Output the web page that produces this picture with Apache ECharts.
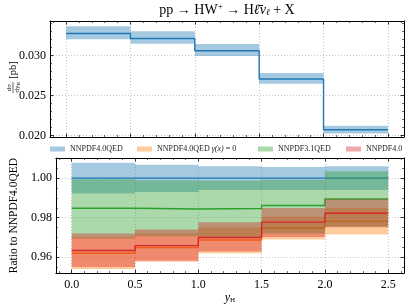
<!DOCTYPE html>
<html><head><meta charset="utf-8">
<script src="https://cdn.jsdelivr.net/npm/echarts@6/dist/echarts.min.js"></script>
<style>html,body{margin:0;padding:0;background:#fff}#c{width:407px;height:305px}</style>
</head><body><div id="c"></div>
<script>
// ---- data ----
const binEdges = [0.0, 0.5, 1.0, 1.5, 2.0, 2.5];
// top panel: d sigma / d y_H [pb]
const topCentral = [0.03274, 0.03212, 0.03058, 0.02705, 0.02070];
const topHigh    = [0.03365, 0.03303, 0.03141, 0.02780, 0.02120];
const topLow     = [0.03203, 0.03145, 0.02992, 0.02647, 0.02024];
// bottom panel: ratio to NNPDF4.0QED
const seriesNames = ['NNPDF4.0QED', 'NNPDF4.0QED γ(x) = 0', 'NNPDF3.1QED', 'NNPDF4.0'];
const qedC  = [1.0000, 1.0000, 1.0000, 1.0000, 1.0000];
const qedHi = [1.0078, 1.0068, 1.0060, 1.0057, 1.0060];
const qedLo = [0.9922, 0.9930, 0.9940, 0.9940, 0.9940];
const noPhC  = [0.9620, 0.9649, 0.9687, 0.9748, 0.9783];
const noPhHi = [0.9703, 0.9722, 0.9750, 0.9805, 0.9850];
const noPhLo = [0.9541, 0.9577, 0.9620, 0.9690, 0.9715];
const n31C  = [0.9848, 0.9844, 0.9847, 0.9862, 0.9895];
const n31Hi = [0.9994, 0.9990, 0.9988, 0.9992, 1.0035];
const n31Lo = [0.9695, 0.9706, 0.9703, 0.9720, 0.9755];
const n40C  = [0.9634, 0.9659, 0.9700, 0.9778, 0.9823];
const n40Hi = [0.9720, 0.9741, 0.9777, 0.9849, 0.9893];
const n40Lo = [0.9551, 0.9582, 0.9629, 0.9703, 0.9752];

// ---- styling ----
const serif = "'Liberation Serif','DejaVu Serif',serif";
const lineCol = ['#1f77b4', '#ff7f0e', '#2ca02c', '#d62728'];
const bandCol = ['rgba(31,119,180,0.4)', 'rgba(255,127,14,0.4)', 'rgba(44,160,44,0.4)', 'rgba(214,39,40,0.4)'];

function band(name, lo, hi, color, ax, z) {
  return {
    type: 'custom', name: name, xAxisIndex: ax, yAxisIndex: ax, z: z, silent: true,
    itemStyle: { color: color },
    data: [[binEdges[0], lo[0]]],
    renderItem: function (params, api) {
      const pts = [];
      for (let i = 0; i < hi.length; i++) {
        pts.push(api.coord([binEdges[i], hi[i]]));
        pts.push(api.coord([binEdges[i + 1], hi[i]]));
      }
      for (let i = lo.length - 1; i >= 0; i--) {
        pts.push(api.coord([binEdges[i + 1], lo[i]]));
        pts.push(api.coord([binEdges[i], lo[i]]));
      }
      return { type: 'polygon', shape: { points: pts }, style: { fill: color } };
    }
  };
}
function stepLine(c, color, ax, z) {
  const d = c.map((v, i) => [binEdges[i], v]);
  d.push([binEdges[c.length], c[c.length - 1]]);
  return {
    type: 'line', step: 'end', data: d, xAxisIndex: ax, yAxisIndex: ax, z: z,
    symbol: 'none', silent: true, lineStyle: { color: color, width: 1.4 }
  };
}
function xAx(grid, pos, labels) {
  const o = {
    type: 'value', gridIndex: grid, position: pos, min: -0.125, max: 2.625, splitNumber: 5,
    axisLine: { show: true, onZero: false, lineStyle: { color: '#000', width: 1 } },
    axisTick: { show: true, inside: true, length: 3.5, lineStyle: { color: '#000', width: 0.8 } },
    minorTick: { show: true, splitNumber: 5, length: 2, lineStyle: { color: '#000', width: 0.6 } },
    axisLabel: { show: labels, showMinLabel: false, showMaxLabel: false, margin: 6,
      fontFamily: serif, fontSize: 12, color: '#000', formatter: v => v.toFixed(1) },
    splitLine: { show: pos === 'bottom', lineStyle: { color: '#b8b8b8', type: [1, 2], width: 0.8 } }
  };
  if (labels) {
    o.name = '{i|y}{s|H}';
    o.nameLocation = 'middle';
    o.nameGap = 17;
    o.nameTextStyle = { rich: {
      i: { fontFamily: serif, fontStyle: 'italic', fontSize: 12, color: '#000' },
      s: { fontFamily: serif, fontSize: 7, color: '#000', padding: [5, 0, 0, 0] } } };
  }
  return o;
}
function yAx(grid, pos, labels, min, max, minorSplit, digits) {
  return {
    type: 'value', gridIndex: grid, position: pos, min: min, max: max, splitNumber: 3,
    axisLine: { show: true, onZero: false, lineStyle: { color: '#000', width: 1 } },
    axisTick: { show: true, inside: true, length: 3.5, lineStyle: { color: '#000', width: 0.8 } },
    minorTick: { show: true, splitNumber: minorSplit, length: 2, lineStyle: { color: '#000', width: 0.6 } },
    axisLabel: { show: labels, showMinLabel: false, showMaxLabel: false, margin: 4,
      fontFamily: serif, fontSize: 12, color: '#000', formatter: v => v.toFixed(digits) },
    splitLine: { show: pos === 'left', lineStyle: { color: '#b8b8b8', type: [1, 2], width: 0.8 } }
  };
}

const yBottomLeft = yAx(1, 'left', true, 0.952, 1.0102, 4, 2);
yBottomLeft.name = 'Ratio to NNPDF4.0QED';
yBottomLeft.nameLocation = 'middle';
yBottomLeft.nameGap = 27;
yBottomLeft.nameTextStyle = { fontFamily: serif, fontSize: 11.5, color: '#000' };

const legendX = [50, 137, 258, 346];
const legendRich = {
  n: { fontFamily: serif, fontSize: 8, color: '#222' },
  i: { fontFamily: serif, fontSize: 8, fontStyle: 'italic', color: '#222' }
};

const option = {
  animation: false,
  backgroundColor: '#fff',
  grid: [
    { left: 50, right: 3, top: 21, height: 116 },
    { left: 50, right: 3, top: 158, height: 117 }
  ],
  xAxis: [xAx(0, 'bottom', false), xAx(0, 'top', false), xAx(1, 'bottom', true), xAx(1, 'top', false)],
  yAxis: [
    yAx(0, 'left', true, 0.0198, 0.0343, 5, 3),
    yAx(0, 'right', false, 0.0198, 0.0343, 5, 3),
    yBottomLeft,
    yAx(1, 'right', false, 0.952, 1.0102, 4, 2)
  ],
  legend: seriesNames.map((n, i) => ({
    data: [{ name: n, icon: 'rect', itemStyle: { color: bandCol[i] } }],
    left: legendX[i], top: 145, padding: 0, itemWidth: 15, itemHeight: 5, selectedMode: false,
    formatter: name => name.indexOf('γ') >= 0
      ? '{n|' + name.split(' ')[0] + ' }{i|γ(x)}{n| = 0}'
      : '{n|' + name + '}',
    textStyle: { fontFamily: serif, fontSize: 8, color: '#222', rich: legendRich }
  })),
  graphic: [
    { type: 'text', x: 227, y: 2, style: {
        text: '{r|pp → HW}{sup|+}{r| → H}{i|ℓ̄ν}{sub|ℓ}{r| + X}', textAlign: 'center',
        rich: {
          r: { fontFamily: serif, fontSize: 14, color: '#000' },
          i: { fontFamily: serif, fontStyle: 'italic', fontSize: 14, color: '#000' },
          sup: { fontFamily: serif, fontSize: 9, color: '#000', padding: [0, 0, 7, 0] },
          sub: { fontFamily: serif, fontStyle: 'italic', fontSize: 9, color: '#000', padding: [5, 0, 0, 0] }
        } } },
    { type: 'group', x: 13, y: 79, rotation: Math.PI / 2, children: [
        { type: 'text', x: -8.5, y: -0.8, style: { text: 'dσ', fontFamily: serif, fontSize: 7, fill: '#000', textAlign: 'center', textVerticalAlign: 'bottom' } },
        { type: 'line', shape: { x1: -14, y1: 0, x2: -3, y2: 0 }, style: { stroke: '#000', lineWidth: 0.6 } },
        { type: 'text', x: -10, y: 0.8, style: { text: 'dy', fontFamily: serif, fontSize: 7, fill: '#000', textAlign: 'center', textVerticalAlign: 'top' } },
        { type: 'text', x: -5, y: 3, style: { text: 'H', fontFamily: serif, fontSize: 4.5, fill: '#000', textAlign: 'center', textVerticalAlign: 'top' } },
        { type: 'text', x: 9, y: 0, style: { text: '[pb]', fontFamily: serif, fontSize: 10.5, fill: '#000', textAlign: 'center', textVerticalAlign: 'middle' } }
      ] }
  ],
  series: [
    band('top', topLow, topHigh, bandCol[0], 0, 2),
    stepLine(topCentral, lineCol[0], 0, 3),
    band(seriesNames[0], qedLo, qedHi, bandCol[0], 2, 4),
    stepLine(qedC, lineCol[0], 2, 5),
    band(seriesNames[1], noPhLo, noPhHi, bandCol[1], 2, 6),
    stepLine(noPhC, lineCol[1], 2, 7),
    band(seriesNames[2], n31Lo, n31Hi, bandCol[2], 2, 8),
    stepLine(n31C, lineCol[2], 2, 9),
    band(seriesNames[3], n40Lo, n40Hi, bandCol[3], 2, 10),
    stepLine(n40C, lineCol[3], 2, 11)
  ]
};
const chart = echarts.init(document.getElementById('c'), null, { renderer: 'canvas' });
chart.setOption(option);
</script></body></html>
